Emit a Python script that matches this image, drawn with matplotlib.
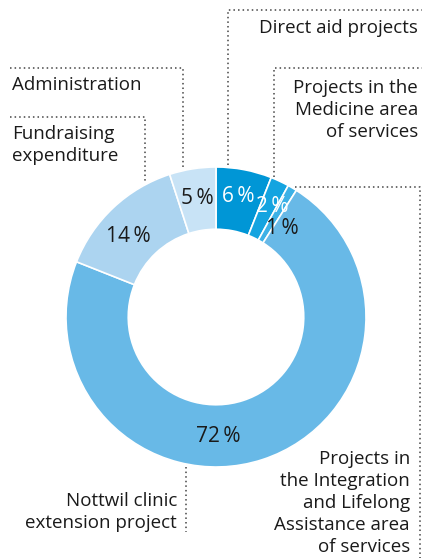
import matplotlib
matplotlib.use("Agg")
import matplotlib.pyplot as plt

labels = ["Direct aid projects", "Projects in the\nMedicine area\nof services",
          "Projects in\nthe Integration\nand Lifelong\nAssistance area\nof services",
          "Nottwil clinic\nextension project", "Fundraising\nexpenditure", "Administration"]
values = [6, 2, 1, 72, 14, 5]
pct_labels = ["6\u2009%", "2\u2009%", "1\u2009%", "72\u2009%", "14\u2009%", "5\u2009%"]
colors = ["#0096d6", "#14a4e0", "#3cb1e6", "#68b9e7", "#acd4f0", "#c8e3f6"]
pct_colors = ["white", "white", "#1a1a1a", "#1a1a1a", "#1a1a1a", "#1a1a1a"]

plt.rcParams['font.family'] = ['Open Sans', 'DejaVu Sans']
W, H = 422, 558
fig = plt.figure(figsize=(W/100, H/100), dpi=100)
ax = fig.add_axes([0, 0, 1, 1])

cx, cy, R = 216, 317, 150
ax.pie(values, colors=colors, startangle=-90, counterclock=True,
       center=(cx, cy), radius=R, frame=True,
       wedgeprops=dict(width=R*0.415, edgecolor='white', linewidth=1.2))
ax.set_xlim(0, W)
ax.set_ylim(H, 0)
ax.set_aspect('equal')
ax.axis('off')

fs = 13.5
pfs = 15
pct_pos = [(238, 196), (272, 206), (282, 228), (218, 436), (128, 237), (197, 198)]
for (x, y), t, c in zip(pct_pos, pct_labels, pct_colors):
    ax.text(x, y, t, ha='center', va='center', fontsize=pfs, color=c)

ls = dict(color='#444444', linewidth=1.1, linestyle=(0, (1, 2)))
tc = '#1a1a1a'
# Direct aid
ax.plot([228, 228, 422], [165, 10, 10], **ls)
ax.text(418, 28, labels[0], ha='right', va='center', fontsize=fs, color=tc)
# Medicine
ax.plot([274, 274, 422], [177, 68, 68], **ls)
ax.text(418, 110, labels[1], ha='right', va='center', fontsize=fs, color=tc, linespacing=1.3)
# Integration
ax.plot([295, 420, 420], [187, 187, 558], **ls)
ax.text(410, 503, labels[2], ha='right', va='center', fontsize=fs, color=tc, linespacing=1.3)
# Administration
ax.plot([10, 183, 183], [68, 68, 168], **ls)
ax.text(12, 85, labels[5], ha='left', va='center', fontsize=fs, color=tc)
# Fundraising
ax.plot([10, 145, 145], [117, 117, 182], **ls)
ax.text(12, 145, labels[4], ha='left', va='center', fontsize=fs, color=tc, linespacing=1.3)
# Nottwil
ax.plot([186, 186], [467, 532], **ls)
ax.text(177, 512, labels[3], ha='right', va='center', fontsize=fs, color=tc, linespacing=1.3)

fig.savefig("out.png", dpi=100)
